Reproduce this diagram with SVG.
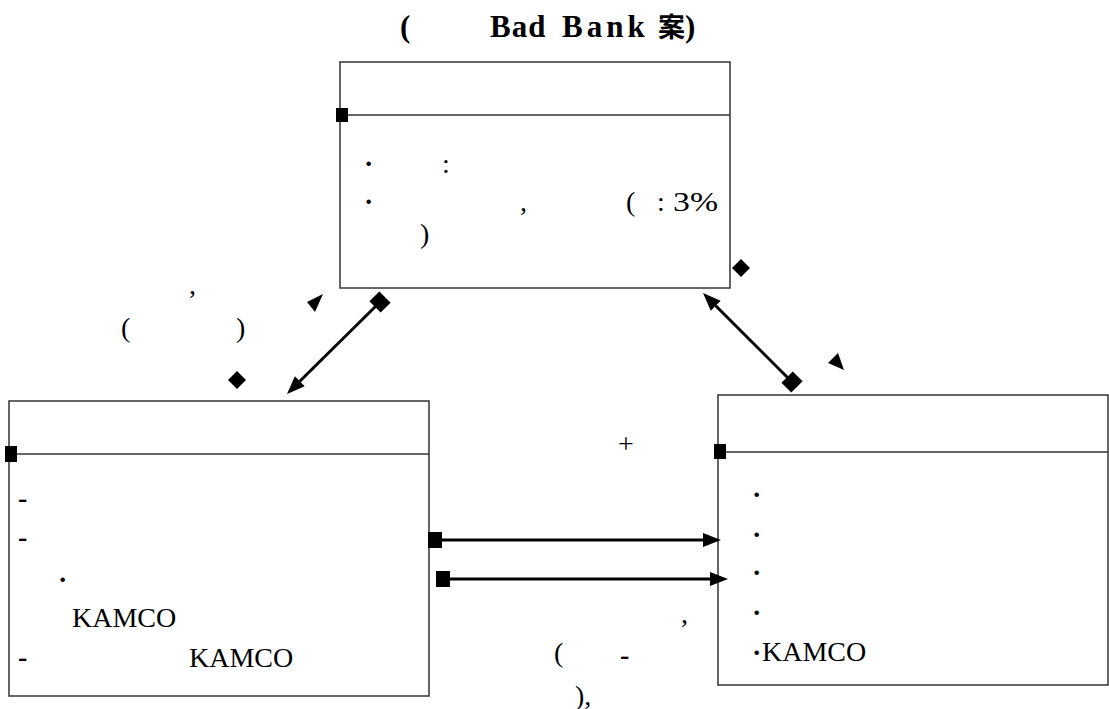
<svg xmlns="http://www.w3.org/2000/svg" width="1109" height="709" viewBox="0 0 1109 709">
<style>
.box{fill:#fff;stroke:#333;stroke-width:1.5}
.div{stroke:#333;stroke-width:1.5}
.t{font-family:'Liberation Serif',serif;font-size:28px;fill:#000}
.b{font-weight:bold}
.title{font-family:'Liberation Serif',serif;font-size:31px;font-weight:bold;fill:#000}
.cjk{font-family:'Noto Sans CJK KR','Noto Sans CJK SC',sans-serif;font-size:27px}
.conn{stroke:#000;stroke-width:3;fill:none}
.mk{fill:#000}
</style>
<defs>
<marker id="arrow" markerUnits="userSpaceOnUse" markerWidth="18" markerHeight="14" refX="0" refY="7" orient="auto" overflow="visible">
<path d="M0,0 L18,7 L0,14 Z" fill="#000"/>
</marker>
<marker id="sq" markerUnits="userSpaceOnUse" markerWidth="14" markerHeight="16" refX="7" refY="8" orient="auto" overflow="visible">
<rect x="0" y="0" width="14" height="16" fill="#000"/>
</marker>
</defs>
<rect width="1109" height="709" fill="#fff"/>

<g id="title">
<text class="title" y="37"><tspan x="400">(</tspan><tspan x="490" letter-spacing="1">Bad</tspan><tspan x="562" letter-spacing="4">Bank</tspan><tspan class="cjk" x="658">案</tspan><tspan x="685">)</tspan></text>
</g>

<g id="node-top">
<rect class="box" x="340" y="62" width="390" height="226"/>
<line class="div" x1="340" y1="115" x2="730" y2="115"/>
<rect class="mk" x="336" y="108" width="12" height="14"/>
<text class="t b" x="364" y="173">·</text>
<text class="t" x="442" y="173">:</text>
<text class="t b" x="364" y="211">·</text>
<text class="t" x="520" y="211">,</text>
<text class="t" x="626" y="211">(</text>
<text class="t" x="657" y="211">:</text>
<text class="t" x="673" y="211" textLength="45" lengthAdjust="spacingAndGlyphs">3%</text>
<text class="t" x="420" y="243">)</text>
</g>

<g id="node-left">
<rect class="box" x="9" y="401" width="420" height="295"/>
<line class="div" x1="9" y1="454" x2="429" y2="454"/>
<rect class="mk" x="5" y="446" width="12" height="16"/>
<text class="t b" x="18" y="507">-</text>
<text class="t b" x="18" y="546">-</text>
<text class="t b" x="58" y="589">·</text>
<text class="t" x="72" y="627">KAMCO</text>
<text class="t b" x="18" y="666">-</text>
<text class="t" x="189" y="667">KAMCO</text>
</g>

<g id="node-right">
<rect class="box" x="718" y="395" width="390" height="290"/>
<line class="div" x1="718" y1="452" x2="1108" y2="452"/>
<rect class="mk" x="714" y="444" width="12" height="15"/>
<text class="t b" x="752" y="504">·</text>
<text class="t b" x="752" y="544">·</text>
<text class="t b" x="752" y="582">·</text>
<text class="t b" x="752" y="622">·</text>
<text class="t b" x="752" y="662">·</text>
<text class="t" x="762" y="661">KAMCO</text>
</g>

<g id="labels">
<text class="t" x="189" y="294">,</text>
<text class="t" x="121" y="337">(</text>
<text class="t" x="236" y="337">)</text>
<text class="t" x="618" y="453">+</text>
<text class="t" x="681" y="623">,</text>
<text class="t" x="554" y="662">(</text>
<text class="t b" x="620" y="664">-</text>
<text class="t" x="575" y="705">),</text>
</g>

<g id="marks">
<path class="mk" d="M741,259 L750,268 L741,277 L732,268 Z"/>
<path class="mk" d="M237,371 L246,380 L237,389 L228,380 Z"/>
<path class="mk" d="M323,294 L307,302 L315,312 Z"/>
<path class="mk" d="M828,363 L838,353 L844,370 Z"/>
</g>

<g id="connectors">
<line class="conn" x1="380" y1="302" x2="299.8" y2="381.3" marker-start="url(#sq)" marker-end="url(#arrow)"/>
<line class="conn" x1="792" y1="382" x2="715.7" y2="305.7" marker-start="url(#sq)" marker-end="url(#arrow)"/>
<line class="conn" x1="435" y1="540" x2="703" y2="540" marker-start="url(#sq)" marker-end="url(#arrow)"/>
<line class="conn" x1="443" y1="579" x2="710" y2="579" marker-start="url(#sq)" marker-end="url(#arrow)"/>
</g>
</svg>
